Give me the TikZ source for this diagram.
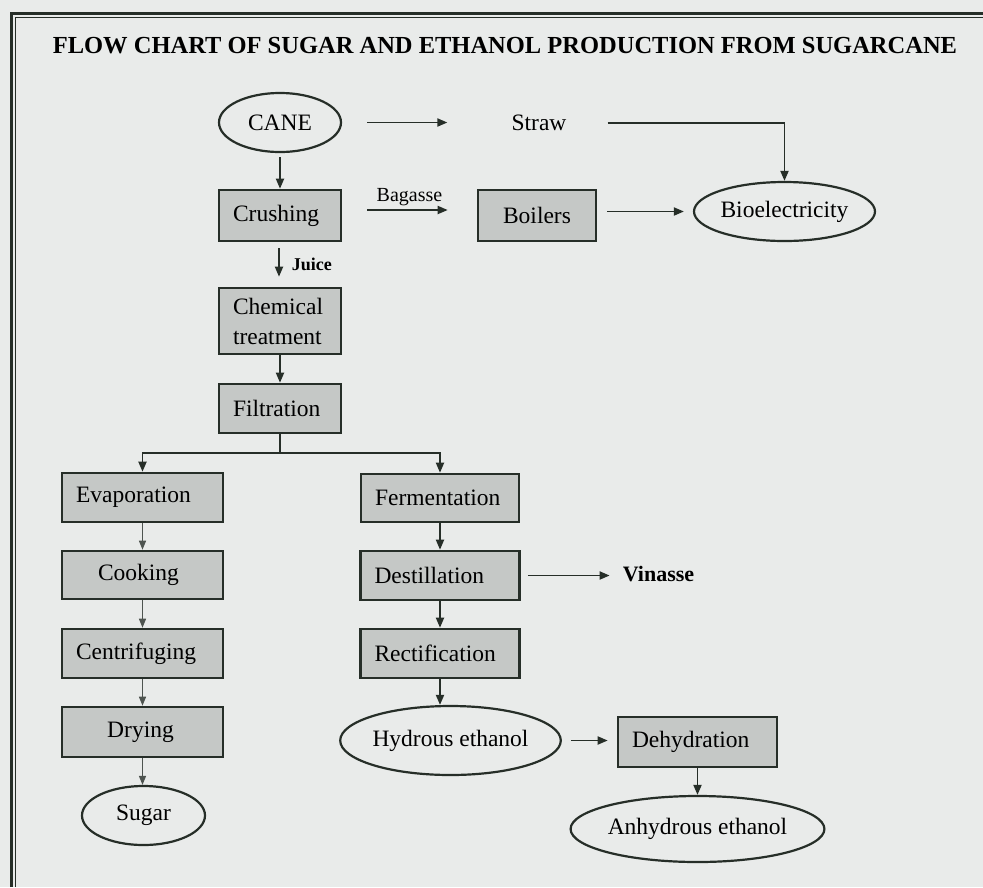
\documentclass[tikz,border=0pt]{standalone}
\usepackage{fontspec}
\setmainfont{Liberation Serif}
\usetikzlibrary{shapes.geometric,arrows.meta}

\definecolor{pagebg}{RGB}{233,235,234}
\definecolor{ink}{RGB}{38,46,40}
\definecolor{softink}{RGB}{78,84,80}
\definecolor{boxgrey}{RGB}{197,200,198}

\newcommand\bodyfont{\fontsize{23.5}{28}\selectfont}
\newcommand\smallfont{\fontsize{20}{24}\selectfont}

\begin{document}
\begin{tikzpicture}[
  x=1pt, y=-1pt,
  stepbox/.style={draw=ink, line width=2.6pt, fill=boxgrey, inner xsep=14pt,
    inner ysep=0pt, font=\bodyfont},
  lbox/.style={stepbox, text width=#1, align=left},
  cbox/.style={stepbox, minimum width=#1, align=center},
  endpoint/.style={draw=ink, line width=2.2pt, ellipse, inner sep=0pt, font=\bodyfont},
  plain/.style={inner sep=0pt, font=\bodyfont},
  flow/.style={draw=ink, line width=1.8pt, -{Triangle[length=10pt,width=8pt]}},
  thinflow/.style={draw=softink, line width=1.3pt, -{Triangle[length=9pt,width=7pt]}}
]
% page and frame
\fill[pagebg] (0,0) rectangle (983,887);
\useasboundingbox (0,0) rectangle (983,887);
\draw[ink, line width=3pt] (11,887) -- (11,13) -- (983,13);
\draw[ink, line width=1.2pt] (15.5,887) -- (15.5,17.5) -- (983,17.5);

% title
\node[inner sep=0pt, font=\fontsize{24.5}{28}\selectfont\bfseries] (title) at (505,45.5)
  {FLOW CHART OF SUGAR AND ETHANOL PRODUCTION FROM SUGARCANE};

% top row
\node[endpoint, minimum width=122pt, minimum height=59pt] (cane) at (280,122.5) {CANE};
\node[plain] (straw) at (539,123) {Straw};
\node[endpoint, minimum width=181pt, minimum height=59pt] (bio) at (784.5,211.5) {Bioelectricity};
\node[lbox=94pt, minimum height=51pt] (crush) at (280,215.5) {Crushing};
\node[cbox=118pt, minimum height=51pt] (boil) at (537,215.5) {Boilers};

% juice treatment
\node[lbox=94pt, minimum height=66pt, font=\fontsize{23.5}{30}\selectfont] (chem) at (280,321) {Chemical\\treatment};
\node[lbox=94pt, minimum height=49pt] (filt) at (280,408.5) {Filtration};
\coordinate (split) at (280,453);

% sugar line
\node[lbox=133pt, minimum height=49pt] (evap) at (142.5,497.5) {Evaporation};
\node[cbox=161pt, minimum height=48pt] (cook) at (142.5,575) {Cooking\hspace{8pt}};
\node[lbox=133pt, minimum height=49pt] (centri) at (142.5,653.5) {Centrifuging};
\node[cbox=161pt, minimum height=50pt] (dry) at (142.5,732) {Drying\hspace{4pt}};
\node[endpoint, minimum width=123pt, minimum height=59pt] (sugar) at (143.5,815.5) {Sugar};

% ethanol line
\node[lbox=130pt, minimum height=48pt] (ferm) at (440,498) {Fermentation};
\node[lbox=131pt, minimum height=49pt] (dest) at (440,575.5) {Destillation};
\node[plain, font=\fontsize{22}{26}\selectfont\bfseries] (vin) at (658.5,574) {Vinasse};
\node[lbox=131pt, minimum height=49pt] (rect) at (440,653.5) {Rectification};
\node[endpoint, minimum width=199pt, minimum height=69pt] (hyd) at (450.5,740.5) {Hydrous ethanol};
\node[lbox=131pt, minimum height=50pt] (deh) at (697.5,742) {Dehydration};
\node[endpoint, minimum width=239pt, minimum height=66pt] (anh) at (697.5,829) {Anhydrous ethanol};

% connectors: cane, straw, bagasse
\draw[flow, shorten <=4pt] (cane.south) -- (crush.north);
\draw[flow, shorten <=25pt, shorten >=64pt] (cane.east) -- (cane.east -| straw.west);
\draw[flow, shorten <=41pt] (straw.east) -| (bio.north);
\draw[flow, shorten <=25pt, shorten >=29pt] ([yshift=5.5pt]crush.east) -- ([yshift=5.5pt]boil.west)
  node[midway, above=3pt, inner sep=0pt, font=\smallfont] (bagasse) {Bagasse};
\draw[flow, shorten <=10pt, shorten >=9pt] (boil.east |- bio.west) -- (bio.west);

% connectors: juice treatment
\draw[flow, shorten <=6pt, shorten >=10pt] ([xshift=-1pt]crush.south) -- ([xshift=-1pt]chem.north)
  node[midway, right=12pt, inner sep=0pt, font=\fontsize{18}{22}\selectfont\bfseries] (juice) {Juice};
\draw[flow] (chem.south) -- (filt.north);
\draw[draw=ink, line width=1.8pt] (filt.south) -- (split);
\draw[flow] (split) -| (evap.north);
\draw[flow] (split) -| (ferm.north);

% connectors: sugar line
\draw[thinflow] (evap.south) -- (cook.north);
\draw[thinflow] (cook.south) -- (centri.north);
\draw[thinflow] (centri.south) -- (dry.north);
\draw[thinflow] (dry.south) -- (dry.south |- sugar.north);

% connectors: ethanol line
\draw[flow] (ferm.south) -- (dest.north);
\draw[flow] (dest.south) -- (rect.north);
\draw[flow, shorten <=7pt, shorten >=13pt] (dest.east) -- (dest.east -| vin.west);
\draw[flow] (rect.south) -- (rect.south |- hyd.north);
\draw[flow, shorten <=9pt, shorten >=9pt] (hyd.east) -- (hyd.east -| deh.west);
\draw[flow] (deh.south) -- (anh.north);
\end{tikzpicture}
\end{document}
